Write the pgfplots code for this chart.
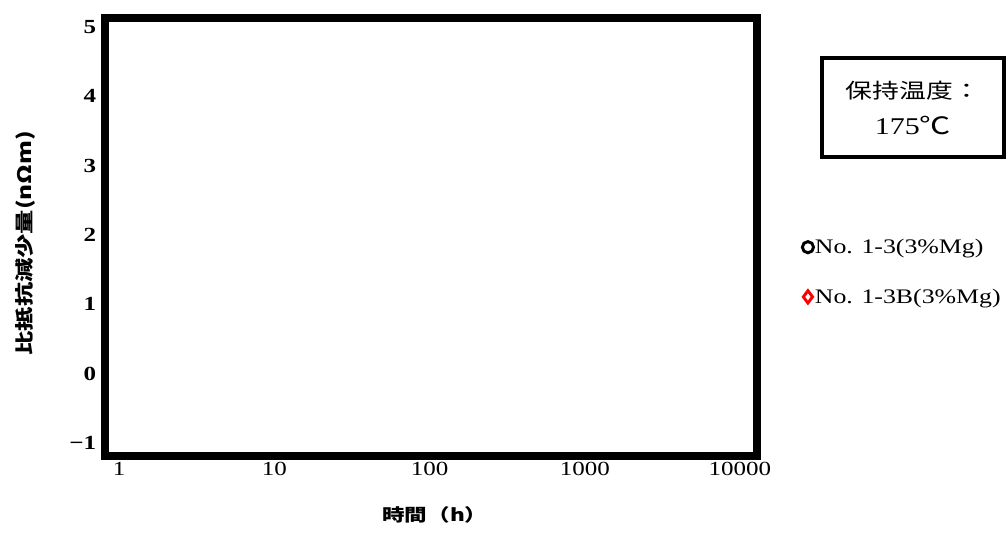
\documentclass[border=0pt]{standalone}
\usepackage{fontspec}
\setmainfont[FakeStretch=1.25]{Liberation Serif}
\newfontfamily\cjk[FakeStretch=1.3]{Noto Sans CJK JP}
\usepackage{pgfplots}
\pgfplotsset{compat=1.18}
\begin{document}
\begin{tikzpicture}
\useasboundingbox (-78.75pt,-58.5pt) rectangle (676.5pt,342pt);
\begin{axis}[
  at={(0pt,0pt)}, anchor=south west,
  scale only axis, width=489pt, height=328.5pt,
  xmode=log, xmin=0.81, xmax=12870, ymin=-1.1875, ymax=5.13,
  xtick={1,10,100,1000,10000}, xticklabels={1,10,100,1000,10000},
  ytick={-1,0,1,2,3,4,5}, yticklabels={−1,0,1,2,3,4,5},
  major tick length=0pt, minor tick length=0pt, tick style={draw=none},
  axis line style={line width=6pt},
  x tick label style={font=\fontsize{15}{17}\selectfont, yshift=-1pt},
  y tick label style={font=\fontsize{15}{17}\selectfont\bfseries, xshift=-3.2pt},
  xlabel={時間（h）},
  xlabel style={font=\cjk\bfseries\fontsize{13}{15}\selectfont, at={(axis description cs:0.506,-0.1347)}, anchor=center},
  ylabel={比抵抗減少量(nΩm)},
  ylabel style={font=\cjk\bfseries\fontsize{14}{16}\selectfont, at={(axis description cs:-0.1227,0.486)}, anchor=center},
  legend style={at={(axis description cs:1.063,0.42)}, anchor=west, draw=none, fill=none,
    font=\fontsize{15.5}{17}\selectfont, row sep=23pt, nodes={inner sep=1pt}},
  legend cell align=left,
  legend image code/.code={\draw[#1] plot coordinates {(0pt,0pt)};},
]
\addlegendimage{only marks, mark=o, black, line width=2.2pt, mark size=4.2pt}
\addlegendentry{No. 1-3(3\%Mg)}
\addlegendimage{only marks, mark=diamond, red, line width=2.2pt, mark size=4.6pt}
\addlegendentry{No. 1-3B(3\%Mg)}
\end{axis}
\draw[line width=3.4pt] (537.75pt,224.25pt) rectangle (674.25pt,298.5pt);
\node[font=\cjk\fontsize{15.5}{18}\selectfont] at (606pt,273.75pt) {保持温度：};
\node[font=\fontsize{18}{20}\selectfont] at (606pt,247.5pt) {175{\cjk ℃}};
\end{tikzpicture}
\end{document}
